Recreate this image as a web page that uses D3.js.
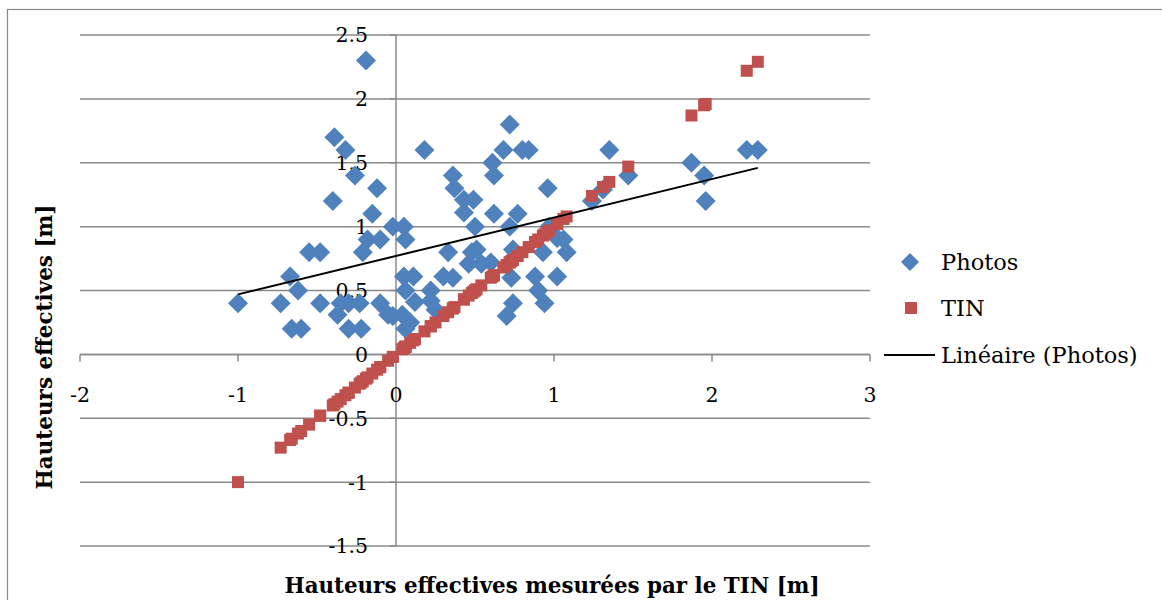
<!DOCTYPE html>
<html>
<head>
<meta charset="utf-8">
<script src="https://cdn.jsdelivr.net/npm/d3@7"></script>
<style>
  html, body { margin: 0; padding: 0; background: #fff; }
  svg { display: block; }
  text { font-family: "DejaVu Serif", "Liberation Serif", serif; fill: #000; }
</style>
</head>
<body>
<svg id="chart" width="1162" height="600"></svg>
<script>
// Effective heights measured on the TIN (x) vs. heights estimated from photos (y)
const tinHeights = [
  -1.00, -0.73, -0.67, -0.66, -0.62, -0.60, -0.55, -0.48, -0.48, -0.40,
  -0.39, -0.37, -0.35, -0.32, -0.30, -0.30, -0.26, -0.23, -0.22, -0.21,
  -0.19, -0.18, -0.15, -0.12, -0.10, -0.10, -0.05, -0.02, -0.02, 0.04,
   0.05,  0.05,  0.06,  0.06,  0.06,  0.09,  0.11,  0.12,  0.18,  0.22,
   0.22,  0.25,  0.30,  0.33,  0.36,  0.36,  0.37,  0.43,  0.43,  0.46,
   0.48,  0.49,  0.50,  0.51,  0.54,  0.60,  0.61,  0.62,  0.62,  0.68,
   0.70,  0.72,  0.72,  0.73,  0.74,  0.74,  0.77,  0.80,  0.84,  0.88,
   0.90,  0.93,  0.94,  0.96,  0.97,  1.02,  1.02,  1.06,  1.08,  1.24,
   1.31,  1.35,  1.47,  1.87,  1.95,  1.96,  2.22,  2.29
];
const photoHeights = [
   0.40,  0.40,  0.61,  0.20,  0.50,  0.20,  0.80,  0.80,  0.40,  1.20,
   1.70,  0.31,  0.40,  1.60,  0.20,  0.40,  1.40,  0.40,  0.20,  0.80,
   2.30,  0.90,  1.10,  1.30,  0.90,  0.40,  0.31,  1.00,  0.30,  0.31,
   1.00,  0.61,  0.90,  0.50,  0.20,  0.25,  0.61,  0.41,  1.60,  0.50,
   0.42,  0.35,  0.61,  0.80,  0.60,  1.40,  1.30,  1.21,  1.11,  0.71,
   0.80,  1.21,  1.00,  0.82,  0.71,  0.72,  1.50,  1.40,  1.10,  1.60,
   0.30,  1.80,  1.00,  0.60,  0.82,  0.40,  1.10,  1.60,  1.60,  0.61,
   0.50,  0.80,  0.40,  1.30,  1.00,  0.61,  0.91,  0.90,  0.80,  1.20,
   1.29,  1.60,  1.40,  1.50,  1.40,  1.20,  1.60,  1.60
];
// TIN series: the TIN height plotted against itself
const tinSeries = tinHeights;

const xTicks = [-2, -1, 0, 1, 2, 3];
const yTicks = [-1.5, -1, -0.5, 0, 0.5, 1, 1.5, 2, 2.5];
const legendLabels = ["Photos", "TIN", "Linéaire (Photos)"];
const xTitle = "Hauteurs effectives mesurées par le TIN [m]";
const yTitle = "Hauteurs effectives [m]";

const blue = "#4F81BD", red = "#C0504D", gridGray = "#8A8A8A";

const svg = d3.select("#chart");

// outer chart frame
svg.append("rect")
  .attr("x", 7.5).attr("y", 9.5).attr("width", 1170).attr("height", 610)
  .attr("fill", "none").attr("stroke", gridGray).attr("stroke-width", 1.2);

const x = d3.scaleLinear().domain([-2, 3]).range([80, 870]);
const y = d3.scaleLinear().domain([-1.5, 2.5]).range([546, 35]);

// horizontal gridlines
svg.append("g").selectAll("line").data(yTicks).join("line")
  .attr("x1", x(-2)).attr("x2", x(3))
  .attr("y1", d => y(d)).attr("y2", d => y(d))
  .attr("stroke", gridGray).attr("stroke-width", 1.5);

// axes crossing at the origin
svg.append("line")
  .attr("x1", x(0)).attr("x2", x(0)).attr("y1", y(2.5)).attr("y2", y(-1.5))
  .attr("stroke", gridGray).attr("stroke-width", 1.5);
svg.append("line")
  .attr("x1", x(-2)).attr("x2", x(3)).attr("y1", y(0)).attr("y2", y(0))
  .attr("stroke", gridGray).attr("stroke-width", 1.5);
svg.append("g").selectAll("line").data(xTicks).join("line")
  .attr("x1", d => x(d)).attr("x2", d => x(d))
  .attr("y1", y(0)).attr("y2", y(0) + 7)
  .attr("stroke", gridGray).attr("stroke-width", 1.5);
svg.append("g").selectAll("line").data(yTicks).join("line")
  .attr("x1", x(0) - 6).attr("x2", x(0))
  .attr("y1", d => y(d)).attr("y2", d => y(d))
  .attr("stroke", gridGray).attr("stroke-width", 1.5);

// tick labels
svg.append("g").selectAll("text").data(yTicks).join("text")
  .attr("x", 368).attr("y", d => y(d)).attr("dy", "0.36em")
  .attr("text-anchor", "end").attr("font-size", 20.5)
  .text(d => d);
svg.append("g").selectAll("text").data(xTicks).join("text")
  .attr("x", d => x(d)).attr("y", 402)
  .attr("text-anchor", "middle").attr("font-size", 20.5)
  .text(d => d);

// axis titles
svg.append("text")
  .attr("x", 552).attr("y", 593)
  .attr("text-anchor", "middle").attr("font-size", 21.4).attr("font-weight", "bold")
  .text(xTitle);
svg.append("text")
  .attr("transform", "translate(52,347) rotate(-90)")
  .attr("text-anchor", "middle").attr("font-size", 21.5).attr("font-weight", "bold")
  .text(yTitle);

const diamond = d3.symbol(d3.symbolSquare, 200);
const square = d3.symbol(d3.symbolSquare, 144);

// Photos series
svg.append("g").selectAll("path").data(tinHeights).join("path")
  .attr("d", diamond)
  .attr("transform", (d, i) => `translate(${x(d)},${y(photoHeights[i])}) rotate(45)`)
  .attr("fill", blue);

// TIN series
svg.append("g").selectAll("path").data(tinHeights).join("path")
  .attr("d", square)
  .attr("transform", (d, i) => `translate(${x(d)},${y(tinSeries[i])})`)
  .attr("fill", red);

// linear trend of the Photos series (least squares)
const n = tinHeights.length;
const mx = d3.mean(tinHeights), my = d3.mean(photoHeights);
let sxy = 0, sxx = 0;
for (let i = 0; i < n; i++) {
  sxy += (tinHeights[i] - mx) * (photoHeights[i] - my);
  sxx += (tinHeights[i] - mx) ** 2;
}
const slope = sxy / sxx, intercept = my - slope * mx;
const [xmin, xmax] = d3.extent(tinHeights);
svg.append("line")
  .attr("x1", x(xmin)).attr("y1", y(intercept + slope * xmin))
  .attr("x2", x(xmax)).attr("y2", y(intercept + slope * xmax))
  .attr("stroke", "#000").attr("stroke-width", 2);

// legend
const lg = svg.append("g");
lg.append("path").attr("d", d3.symbol(d3.symbolSquare, 162))
  .attr("transform", "translate(910,262) rotate(45)").attr("fill", blue);
lg.append("path").attr("d", d3.symbol(d3.symbolSquare, 144))
  .attr("transform", "translate(911,308)").attr("fill", red);
lg.append("line").attr("x1", 884).attr("x2", 935).attr("y1", 355).attr("y2", 355)
  .attr("stroke", "#000").attr("stroke-width", 2);
lg.selectAll("text").data(legendLabels).join("text")
  .attr("x", 941).attr("y", (d, i) => [262, 308, 355][i]).attr("dy", "0.36em")
  .attr("font-size", 22.5)
  .text(d => d);
</script>
</body>
</html>
